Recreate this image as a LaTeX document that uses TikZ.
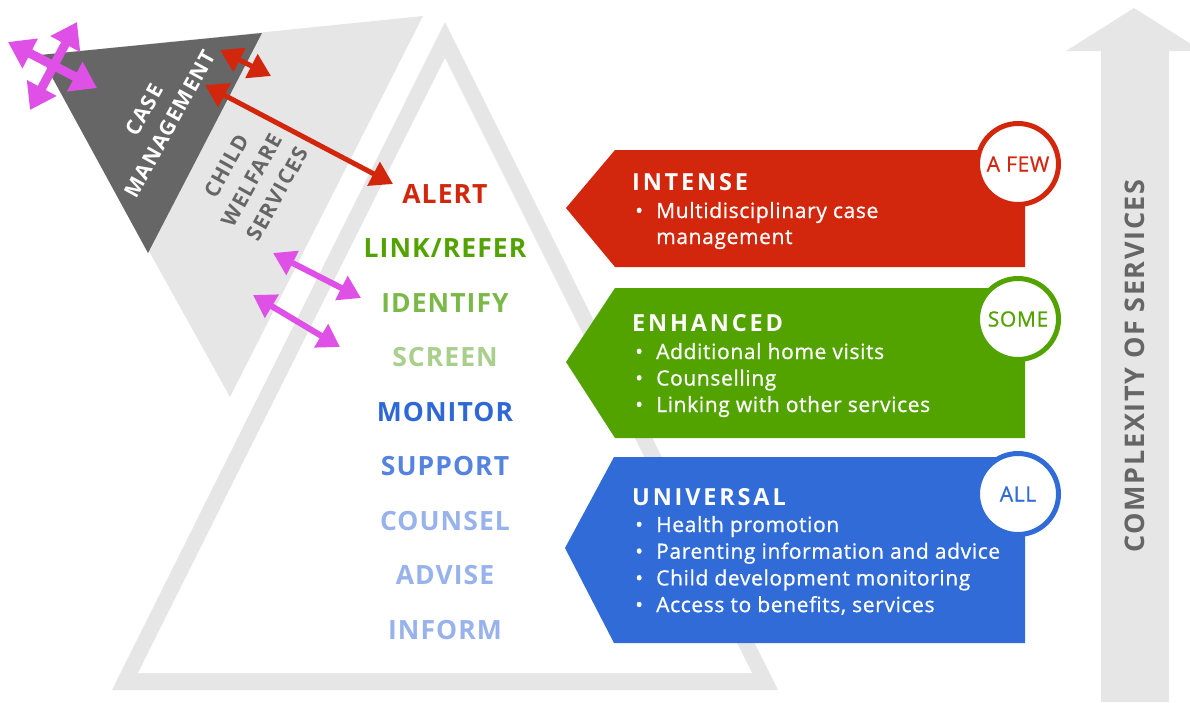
\documentclass[tikz,border=0pt]{standalone}
\usepackage{fontspec}
\setmainfont{Open Sans}
\newfontfamily\titlefont[LetterSpace=12]{Open Sans}
\newfontfamily\levelfont[LetterSpace=4]{Open Sans}
\newfontfamily\sidefont[LetterSpace=6]{Open Sans}
\newfontfamily\bodyfont[LetterSpace=3,FakeBold=0.8]{Open Sans}
\usetikzlibrary{arrows.meta}

\definecolor{cGrayL}{RGB}{230,230,230}
\definecolor{cGrayD}{RGB}{102,102,102}
\definecolor{cRed}{RGB}{211,39,13}
\definecolor{cGreen}{RGB}{82,163,0}
\definecolor{cBlue}{RGB}{48,107,216}
\definecolor{cMag}{RGB}{222,80,230}
\definecolor{cIdent}{RGB}{122,184,72}
\definecolor{cScreen}{RGB}{168,208,140}
\definecolor{cMonitor}{RGB}{47,104,214}
\definecolor{cSupport}{RGB}{84,132,224}
\definecolor{cPale}{RGB}{152,178,236}

\begin{document}
\begin{tikzpicture}[x=1pt,y=-1pt,
    lvl/.style={font=\levelfont\bfseries\fontsize{26.5}{30}\selectfont, inner sep=0},
    ttl/.style={font=\titlefont\bfseries\fontsize{23.5}{27}\selectfont, text=white, anchor=base west, inner sep=0},
    bul/.style={font=\bodyfont\fontsize{21}{26}\selectfont, text=white, anchor=base west, inner sep=0},
    tag/.style={circle, fill=white, line width=5pt, minimum size=81pt, inner sep=0, font=\bodyfont\fontsize{21}{25}\selectfont},
    side/.style={font=\sidefont\bfseries\fontsize{21}{29}\selectfont, align=center, rotate=61, inner sep=0},
    dbl/.style={line width=#1, {Triangle[length=22pt,width=26pt]}-{Triangle[length=22pt,width=26pt]}},
    cross/.style={line width=9pt, {Triangle[length=25pt,width=32pt]}-{Triangle[length=25pt,width=32pt]}}]
  \useasboundingbox (0,0) rectangle (1190,702);

  % pyramid outline
  \fill[cGrayL] (445,22) -- (112,690) -- (778,690) -- cycle;
  \fill[white] (445,58) -- (138,673) -- (752,673) -- cycle;

  % inverted triangle on the left
  \fill[cGrayL] (40,55) -- (423,16) -- (230,397) -- cycle;
  \fill[cGrayD] (40,55) -- (262,33) -- (148,253) -- cycle;
  \node[side, text=white] (casemgmt) at (157,117) {CASE\\MANAGEMENT};
  \node[side, text=cGrayD] (cws) at (252,180) {CHILD\\WELFARE\\SERVICES};

  % levels of the pyramid
  \foreach \col/\lab [count=\i from 0] in {cRed/ALERT, cGreen/{LINK/REFER}, cIdent/IDENTIFY,
      cScreen/SCREEN, cMonitor/MONITOR, cSupport/SUPPORT, cPale/COUNSEL, cPale/ADVISE, cPale/INFORM}
    \node[lvl, text=\col] (lvl-\i) at (445,194+54.5*\i) {\lab};

  % complexity arrow
  \fill[cGrayL] (1101,702) -- (1101,51) -- (1066,51) -- (1134,8) -- (1190,43.4)
    -- (1190,51) -- (1169,51) -- (1169,702) -- cycle;
  \node[rotate=90, font=\sidefont\bfseries\fontsize{27}{30}\selectfont, text=cGrayD, inner sep=0]
    (cplx) at (1135,366) {COMPLEXITY OF SERVICES};

  % banners
  \fill[cRed] (566,208) -- (615,150) -- (1025,150) -- (1025,267) -- (615,267) -- cycle;
  \fill[cGreen] (566,362) -- (615,288) -- (1025,288) -- (1025,438) -- (615,438) -- cycle;
  \fill[cBlue] (565,548) -- (614,457) -- (1025,457) -- (1025,643) -- (614,643) -- cycle;

  \node[ttl] (intense) at (632,190) {INTENSE};
  \node[bul] (int-b0) at (635,218) {•};
  \node[bul] (int-t0) at (656,218) {Multidisciplinary case};
  \node[bul] (int-t1) at (656,244) {management};

  \node[ttl] (enhanced) at (632,331) {ENHANCED};
  \foreach \t [count=\i from 0] in {Additional home visits, Counselling, Linking with other services} {
    \node[bul] (enh-b\i) at (635,359+26.5*\i) {•};
    \node[bul] (enh-t\i) at (656,359+26.5*\i) {\t};
  }

  \node[ttl] (universal) at (632,505) {UNIVERSAL};
  \foreach \t [count=\i from 0] in {Health promotion, Parenting information and advice,
      Child development monitoring, {Access to benefits, services}} {
    \node[bul] (uni-b\i) at (635,532+26.7*\i) {•};
    \node[bul] (uni-t\i) at (656,532+26.7*\i) {\t};
  }

  % circles
  \node[tag, draw=cRed, text=cRed] (afew) at (1018,164) {A FEW};
  \node[tag, draw=cGreen, text=cGreen] (some) at (1018,319) {SOME};
  \node[tag, draw=cBlue, text=cBlue] (all) at (1018,494) {ALL};

  % arrows
  \coordinate (cm-a) at (8,42);
  \coordinate (cm-b) at (97,88);
  \coordinate (cm-c) at (77,22);
  \coordinate (cm-d) at (30,110);
  \draw[cross, cMag] (cm-a) -- (cm-b);
  \draw[cross, cMag] (cm-c) -- (cm-d);

  \coordinate (rs-a) at (220,50);
  \coordinate (rs-b) at (271,76);
  \coordinate (rl-a) at (205,85);
  \coordinate (rl-b) at (393,184);
  \draw[dbl=5pt, cRed] (rs-a) -- (rs-b);
  \draw[dbl=5pt, cRed] (rl-a) -- (rl-b);

  \coordinate (m1-a) at (273,253);
  \coordinate (m1-b) at (361,298);
  \coordinate (m2-a) at (253,295);
  \coordinate (m2-b) at (340,347);
  \draw[dbl=6pt, cMag] (m1-a) -- (m1-b);
  \draw[dbl=6pt, cMag] (m2-a) -- (m2-b);
\end{tikzpicture}
\end{document}
